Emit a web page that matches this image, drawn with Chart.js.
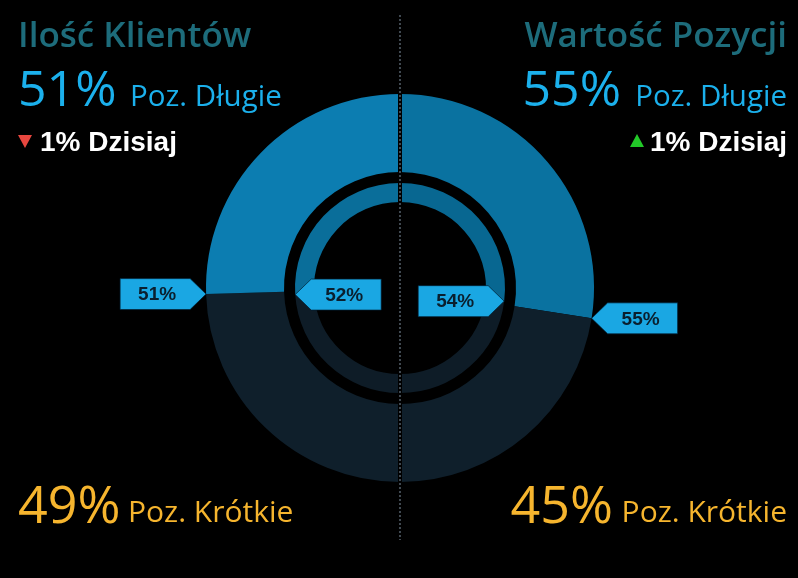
<!DOCTYPE html>
<html lang="pl">
<head>
<meta charset="utf-8">
<title>Ilość Klientów / Wartość Pozycji</title>
<script src="https://cdn.jsdelivr.net/npm/chart.js@4.4.1/dist/chart.umd.min.js"></script>
<style>
  html, body { margin: 0; background: #000; }
  #wrap { position: relative; width: 798px; height: 578px; overflow: hidden; background: #000; }
  #chartBox { position: absolute; left: 0; top: 0; width: 798px; height: 578px; }
  .t { position: absolute; white-space: nowrap; line-height: 1; font-family: 'Open Sans', sans-serif; }
  .title { color: #1d6c7b; font-weight: 600; }
  .long { color: #1bb0ec; }
  .short { color: #f6b52e; }
  .today { color: #fff; font-family: 'Liberation Sans', Arial, sans-serif; font-weight: bold; }
  .tri { position: absolute; width: 0; height: 0; border-left: 7px solid transparent; border-right: 7px solid transparent; }
  .down { border-top: 13px solid #e8473f; }
  .up { border-bottom: 13px solid #22c928; }
</style>
</head>
<body>
<div id="wrap">
  <div id="chartBox"><canvas id="donut"></canvas></div>
</div>
<script>
// index 0 = outer ring, index 1 = inner ring
const panels = ['Ilość Klientów', 'Wartość Pozycji']
const sides = ['Poz. Długie', 'Poz. Krótkie']
const clientsLong = [51, 52]
const clientsShort = [49, 48]
const valueLong = [55, 54]
const valueShort = [45, 46]
const todayDelta = [-1, 1] // clients, value
const todayLabel = 'Dzisiaj'

const COLORS = {
  bg: '#000',
  outerLeft: '#0c7db1',
  outerRight: '#0a72a0',
  innerLeft: '#0a6e9a',
  innerRight: '#086791',
  shortOuter: '#0f1f2b',
  shortInner: '#0e1c27',
  tag: '#1aa7e3',
  tagText: '#0a1f2e',
}

const wrap = document.getElementById('wrap')
const OPEN = 0.888  // baseline offset for Open Sans, line-height 1
const LIB = 0.8465  // Liberation Sans

function addText(text, cls, size, ratio, x, base, right) {
  const el = document.createElement('div')
  el.className = 't ' + cls
  el.style.fontSize = size + 'px'
  el.style.top = (base - ratio * size) + 'px'
  if (right) el.style.right = (798 - x) + 'px'
  else el.style.left = x + 'px'
  el.textContent = text
  wrap.appendChild(el)
  return el
}

function addTriangle(up, x, y) {
  const el = document.createElement('div')
  el.className = 'tri ' + (up ? 'up' : 'down')
  el.style.left = x + 'px'
  el.style.top = y + 'px'
  wrap.appendChild(el)
}

function deltaText(d) {
  return Math.abs(d) + '% ' + todayLabel
}

// left panel
addText(panels[0], 'title', 35, OPEN, 18, 47)
addText(clientsLong[0] + '%', 'long', 50, OPEN, 18, 106)
addText(sides[0], 'long', 29.5, OPEN, 130, 106)
addTriangle(todayDelta[0] > 0, 18, 135)
addText(deltaText(todayDelta[0]), 'today', 28, LIB, 40, 152)
addText(clientsShort[0] + '%', 'short', 52, OPEN, 18, 523)
addText(sides[1], 'short', 30, OPEN, 128, 523)

// right panel
addText(panels[1], 'title', 35, OPEN, 787, 47, true)
addText(valueLong[0] + '%', 'long', 50, OPEN, 621, 106, true)
addText(sides[0], 'long', 29.5, OPEN, 787, 106, true)
addTriangle(todayDelta[1] > 0, 630, 134)
addText(deltaText(todayDelta[1]), 'today', 28, LIB, 787, 152, true)
addText(valueShort[0] + '%', 'short', 52, OPEN, 613, 523, true)
addText(sides[1], 'short', 30, OPEN, 787, 523, true)

// callout tags pointing at the long/short boundary of each ring
const tags = [
  { ds: 0, idx: 3, edge: 'startAngle', dir: -1, value: clientsLong[0] },
  { ds: 2, idx: 3, edge: 'startAngle', dir: 1, value: clientsLong[1] },
  { ds: 2, idx: 0, edge: 'endAngle', dir: -1, value: valueLong[1] },
  { ds: 0, idx: 0, edge: 'endAngle', dir: 1, value: valueLong[0] },
]

function drawTag(c, tx, ty, dir, text) {
  const len = 86, arrow = 16, h = 31
  c.save()
  c.beginPath()
  c.moveTo(tx, ty)
  c.lineTo(tx + dir * arrow, ty - h / 2)
  c.lineTo(tx + dir * len, ty - h / 2)
  c.lineTo(tx + dir * len, ty + h / 2)
  c.lineTo(tx + dir * arrow, ty + h / 2)
  c.closePath()
  c.fillStyle = COLORS.tag
  c.fill()
  c.strokeStyle = 'rgba(0, 30, 50, 0.7)'
  c.lineWidth = 1
  c.stroke()
  c.fillStyle = COLORS.tagText
  c.font = 'bold 19px "Liberation Sans", Arial, sans-serif'
  c.textAlign = 'center'
  c.textBaseline = 'middle'
  c.fillText(text, tx + dir * (arrow + (len - arrow) / 2 - 2), ty + 1)
  c.restore()
}

const overlayPlugin = {
  id: 'overlay',
  afterDatasetsDraw(chart) {
    const c = chart.ctx
    const center = chart.getDatasetMeta(0).data[0]
    const cx = center.x

    // panel divider (dotted)
    c.save()
    c.strokeStyle = '#000'
    c.lineWidth = 4
    c.beginPath()
    c.moveTo(cx, 15)
    c.lineTo(cx, 540)
    c.stroke()
    c.strokeStyle = '#56626c'
    c.lineWidth = 1.5
    c.setLineDash([2, 2])
    c.beginPath()
    c.moveTo(cx, 15)
    c.lineTo(cx, 540)
    c.stroke()
    c.restore()

    tags.forEach((t) => {
      const arc = chart.getDatasetMeta(t.ds).data[t.idx]
      const p = arc.getProps(['x', 'y', 'startAngle', 'endAngle', 'outerRadius'], true)
      const a = p[t.edge]
      const tx = p.x + Math.cos(a) * p.outerRadius
      const ty = p.y + Math.sin(a) * p.outerRadius
      drawTag(c, tx, ty, t.dir, t.value + '%')
    })
  },
}

new Chart(document.getElementById('donut'), {
  type: 'doughnut',
  data: {
    labels: [
      panels[1] + ' ' + sides[0],
      panels[1] + ' ' + sides[1],
      panels[0] + ' ' + sides[1],
      panels[0] + ' ' + sides[0],
    ],
    datasets: [
      {
        label: 'outer',
        data: [valueLong[0], valueShort[0], clientsShort[0], clientsLong[0]],
        backgroundColor: [COLORS.outerRight, COLORS.shortOuter, COLORS.shortOuter, COLORS.outerLeft],
        weight: 78,
      },
      {
        label: 'gap',
        data: [1],
        backgroundColor: 'rgba(0,0,0,0)',
        weight: 11,
      },
      {
        label: 'inner',
        data: [valueLong[1], valueShort[1], clientsShort[1], clientsLong[1]],
        backgroundColor: [COLORS.innerRight, COLORS.shortInner, COLORS.shortInner, COLORS.innerLeft],
        weight: 19,
      },
    ],
  },
  options: {
    responsive: true,
    maintainAspectRatio: false,
    animation: false,
    events: [],
    cutout: 86,
    borderWidth: 0,
    hoverBorderWidth: 0,
    hoverOffset: 0,
    layout: {
      padding: { top: 94, bottom: 96, left: 2, right: 0 },
    },
    plugins: {
      legend: { display: false },
      tooltip: { enabled: false },
    },
  },
  plugins: [overlayPlugin],
})
</script>
</body>
</html>
